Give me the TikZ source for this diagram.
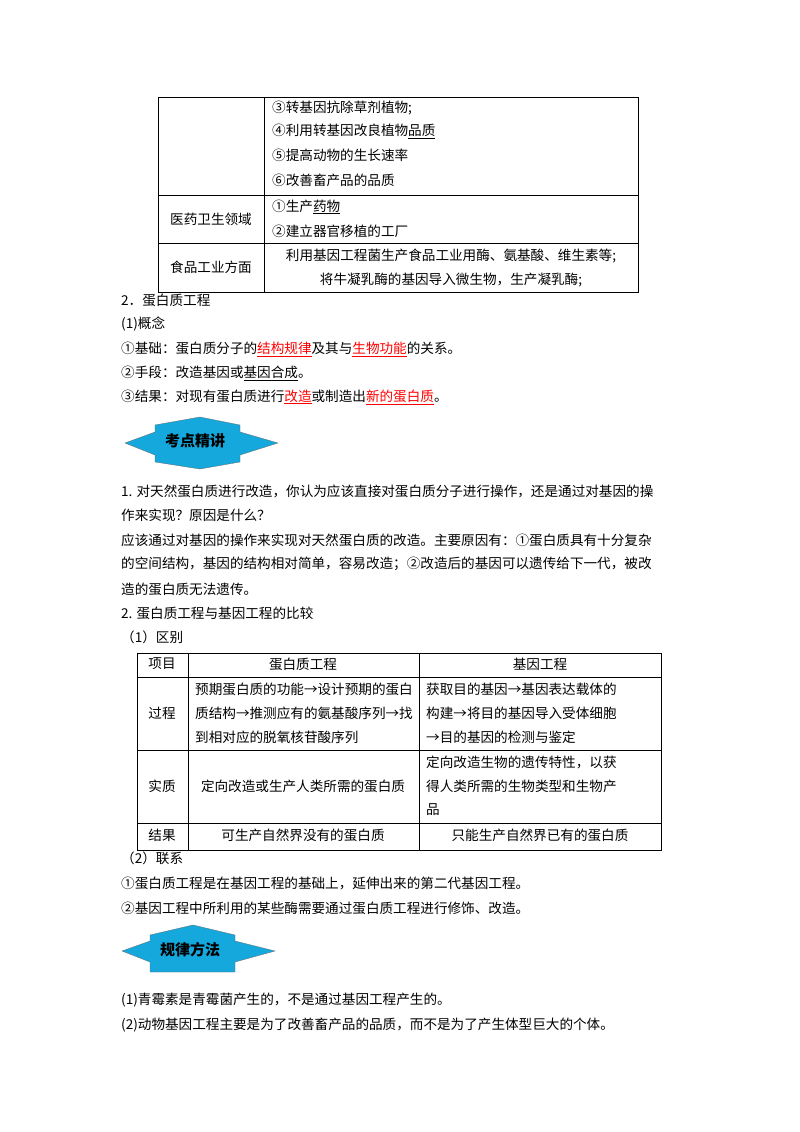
\documentclass[tikz,border=0pt]{standalone}
\usepackage{fontspec}
\setmainfont{Noto Sans CJK SC}
\usetikzlibrary{calc}
\definecolor{badge}{HTML}{14A8DC}
\newcommand{\ul}[1]{\underline{#1}}
\newcommand{\ur}[1]{\textcolor{red}{\underline{#1}}}
\begin{document}
\begin{tikzpicture}[x=1pt,y=-1pt,
  t/.style={anchor=west,inner sep=0pt,font=\fontsize{13.6}{15}\selectfont},
  c/.style={anchor=center,inner sep=0pt,font=\fontsize{13.6}{15}\selectfont,align=center},
  grid/.style={line width=0.8pt},
  bt/.style={font=\fontsize{15}{16}\bfseries\selectfont}]
\useasboundingbox (0,0) rectangle (800,1132);
% table 1
\draw[grid] (158,97) rectangle (638,292);
\draw[grid] (264,97) -- (264,292);
\draw[grid] (158,195) -- (638,195);
\draw[grid] (158,243) -- (638,243);
\node[t] (a3) at (272,108) {③转基因抗除草剂植物;};
\node[t] (a4) at (272,131) {④利用转基因改良植物\ul{品质}};
\node[t] (a5) at (272,155) {⑤提高动物的生长速率};
\node[t] (a6) at (272,180) {⑥改善畜产品的品质};
\node[c] (m) at (211,219) {医药卫生领域};
\node[t] (m1) at (272,207) {①生产\ul{药物}};
\node[t] (m2) at (272,231) {②建立器官移植的工厂};
\node[c] (f) at (211,267) {食品工业方面};
\node[c] (f1) at (451,256) {利用基因工程菌生产食品工业用酶、氨基酸、维生素等;};
\node[c] (f2) at (451,280) {将牛凝乳酶的基因导入微生物，生产凝乳酶;};
% section 2
\node[t] (s2) at (121,300) {2．蛋白质工程};
\node[t] (s21) at (121,324) {(1)概念};
\node[t] (p1) at (121,349) {①基础：蛋白质分子的\ur{结构规律}及其与\ur{生物功能}的关系。};
\node[t] (p2) at (121,373) {②手段：改造基因或\ul{基因合成}。};
\node[t] (p3) at (121,397) {③结果：对现有蛋白质进行\ur{改造}或制造出\ur{新的蛋白质}。};
% badge 1
\fill[badge,draw=black!60,line width=0.3pt] (125,443) -- (155,432) -- (155,425) -- (200,417) -- (240,425) -- (240,432) -- (278,443) -- (240,455) -- (240,462) -- (200,469) -- (155,462) -- (155,455) -- cycle;
\node[bt] (b1) at (195,441) {考点精讲};
% paragraph
\node[t] (q1) at (121,491) {1. 对天然蛋白质进行改造，你认为应该直接对蛋白质分子进行操作，还是通过对基因的操};
\node[t] (q2) at (121,515) {作来实现？原因是什么？};
\node[t] (q3) at (121,540) {应该通过对基因的操作来实现对天然蛋白质的改造。主要原因有：①蛋白质具有十分复杂};
\node[t] (q4) at (121,564) {的空间结构，基因的结构相对简单，容易改造；②改造后的基因可以遗传给下一代，被改};
\node[t] (q5) at (121,589) {造的蛋白质无法遗传。};
\node[t] (q6) at (121,613) {2. 蛋白质工程与基因工程的比较};
\node[t] (q7) at (121,637) {（1）区别};
% table 2
\draw[grid] (137,653) rectangle (661,850);
\draw[grid] (188,653) -- (188,850);
\draw[grid] (419,653) -- (419,850);
\draw[grid] (137,677) -- (661,677);
\draw[grid] (137,750) -- (661,750);
\draw[grid] (137,823) -- (661,823);
\node[c] (h1) at (162,664) {项目};
\node[c] (h2) at (303,664) {蛋白质工程};
\node[c] (h3) at (540,664) {基因工程};
\node[c] (r1) at (162,713) {过程};
\node[t] (r1a) at (195,689) {预期蛋白质的功能→设计预期的蛋白};
\node[t] (r1b) at (195,713) {质结构→推测应有的氨基酸序列→找};
\node[t] (r1c) at (195,737) {到相对应的脱氧核苷酸序列};
\node[t] (r1d) at (426,689) {获取目的基因→基因表达载体的};
\node[t] (r1e) at (426,713) {构建→将目的基因导入受体细胞};
\node[t] (r1f) at (426,737) {→目的基因的检测与鉴定};
\node[c] (r2) at (162,786) {实质};
\node[c] (r2a) at (303,786) {定向改造或生产人类所需的蛋白质};
\node[t] (r2b) at (426,762) {定向改造生物的遗传特性，以获};
\node[t] (r2c) at (426,786) {得人类所需的生物类型和生物产};
\node[t] (r2d) at (426,810) {品};
\node[c] (r3) at (162,835) {结果};
\node[c] (r3a) at (303,835) {可生产自然界没有的蛋白质};
\node[c] (r3b) at (540,835) {只能生产自然界已有的蛋白质};
\node[t] (l0) at (121,858) {（2）联系};
\node[t] (l1) at (121,883) {①蛋白质工程是在基因工程的基础上，延伸出来的第二代基因工程。};
\node[t] (l2) at (121,908) {②基因工程中所利用的某些酶需要通过蛋白质工程进行修饰、改造。};
% badge 2
\fill[badge,draw=black!60,line width=0.3pt] (122,951) -- (150,941) -- (150,935) -- (193,925) -- (235,935) -- (235,941) -- (275,951) -- (235,962) -- (235,972) -- (150,972) -- (150,962) -- cycle;
\node[bt] (b2) at (190,950) {规律方法};
\node[t] (g1) at (121,1000) {(1)青霉素是青霉菌产生的，不是通过基因工程产生的。};
\node[t] (g2) at (121,1025) {(2)动物基因工程主要是为了改善畜产品的品质，而不是为了产生体型巨大的个体。};
\end{tikzpicture}
\end{document}
